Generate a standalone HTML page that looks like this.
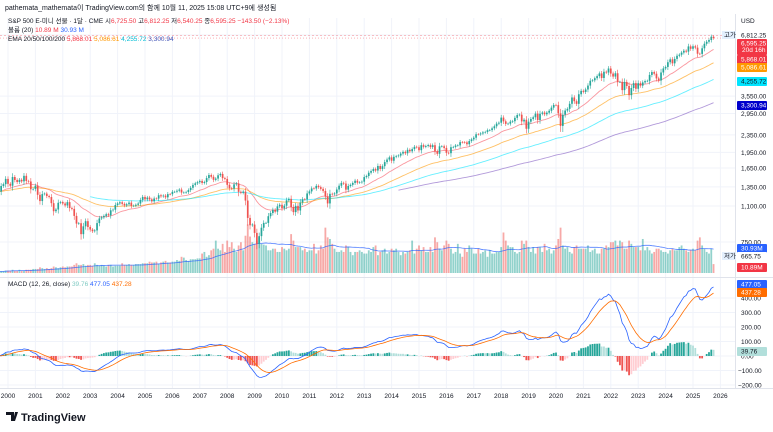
<!DOCTYPE html>
<html><head><meta charset="utf-8">
<style>
body{margin:0;width:773px;height:432px;background:#fff;overflow:hidden;font-family:"Liberation Sans","Noto Sans CJK KR",sans-serif;}
svg{position:absolute;left:0;top:0}
.t{font-size:7px;fill:#131722}
.ax{font-size:6.5px;fill:#131722}
</style></head>
<body>
<svg id="c" width="773" height="432"></svg>
<script>
const startLabel = "1999-09";
const closes = [1283,1362,1389,1469,
1394,1366,1499,1452,1421,1455,1431,1518,1437,1429,1315,1320,
1366,1240,1160,1249,1256,1224,1211,1134,1041,1060,1139,1148,
1130,1107,1147,1077,1067,990,912,916,815,886,936,880,
856,841,848,917,964,975,990,1008,996,1051,1058,1112,
1131,1145,1126,1107,1121,1141,1102,1104,1115,1130,1174,1212,
1181,1204,1181,1157,1192,1191,1234,1220,1229,1207,1249,1248,
1280,1281,1295,1311,1270,1270,1277,1304,1336,1378,1401,1418,
1438,1407,1421,1482,1531,1503,1455,1474,1527,1549,1481,1468,
1379,1331,1323,1386,1400,1280,1267,1283,1166,969,896,903,
826,735,798,873,919,919,987,1021,1057,1036,1096,1115,
1074,1104,1169,1187,1089,1031,1102,1049,1141,1183,1181,1258,
1286,1327,1326,1364,1345,1321,1292,1219,1131,1253,1247,1258,
1312,1366,1408,1398,1310,1362,1379,1407,1441,1412,1416,1426,
1498,1515,1569,1598,1631,1606,1686,1633,1682,1757,1806,1848,
1783,1859,1872,1884,1924,1960,1931,2003,1972,2018,2068,2059,
1995,2105,2068,2086,2107,2063,2104,1972,1920,2079,2080,2044,
1940,1932,2060,2065,2097,2099,2174,2171,2168,2126,2199,2239,
2279,2364,2363,2384,2412,2423,2470,2472,2519,2575,2648,2674,
2824,2714,2641,2648,2705,2718,2816,2902,2914,2712,2760,2507,
2704,2784,2834,2946,2752,2942,2980,2926,2977,3038,3141,3231,
3226,2954,2585,2912,3044,3100,3271,3500,3363,3270,3622,3756,
3714,3811,3973,4181,4204,4298,4395,4523,4308,4605,4567,4766,
4516,4374,4530,4132,4132,3785,4130,3955,3586,3872,4080,3840,
4077,3970,4109,4169,4180,4450,4589,4508,4288,4194,4568,4770,
4846,5096,5254,5036,5278,5460,5522,5648,5762,5705,6032,5882,
6040,5955,5580,5569,5912,6205,6339,6460,6688,6595];
const volumes = [2,2,2,3,
3,3,4,3,3,4,3,3,4,4,4,5,
5,5,7,6,5,6,5,6,8,7,6,7,
8,7,8,8,8,10,12,10,10,11,9,10,
10,9,12,10,9,10,9,8,10,10,8,9,
9,9,12,10,10,11,10,10,11,11,11,12,
12,12,14,13,13,14,11,13,14,15,13,13,
14,14,16,15,20,19,16,15,17,17,17,18,
18,24,26,20,22,28,30,40,30,28,36,26,
40,32,38,30,26,34,38,28,46,60,45,38,
36,40,44,36,35,34,28,28,30,30,26,26,
32,30,28,30,48,40,32,32,32,28,30,26,
28,28,36,24,28,34,30,56,44,42,36,30,
26,26,28,26,34,32,26,22,26,26,28,26,
24,24,28,26,32,34,22,26,28,30,24,26,
30,28,30,26,22,26,24,26,28,40,24,30,
34,28,32,26,26,32,26,44,38,30,28,34,
40,36,30,24,26,36,24,20,30,26,34,30,
24,24,30,24,26,28,20,28,24,24,26,26,
32,50,40,34,32,32,26,24,26,40,36,40,
32,26,32,24,32,32,26,36,28,30,24,28,
34,42,56,34,30,32,26,24,32,34,30,30,
30,30,34,26,28,30,24,24,30,30,34,32,
38,38,40,34,40,38,30,30,40,36,32,32,
32,28,42,28,32,28,24,26,30,30,28,26,
26,24,28,30,28,28,32,34,30,28,26,28,
30,28,40,44,34,30,26,24,30,11];
const years = [2000,2001,2002,2003,2004,2005,2006,2007,2008,2009,2010,2011,2012,2013,2014,2015,2016,2017,2018,2019,2020,2021,2022,2023,2024,2025,2026];
const priceTicks = [6812.25,3550,2950,2350,1950,1650,1350,1100,750];
const macdTicks = [400,300,200,100,0,-100,-200];

const NS="http://www.w3.org/2000/svg", svg=document.getElementById('c');
function el(tag,attrs,parent){const e=document.createElementNS(NS,tag);for(const k in attrs)e.setAttribute(k,attrs[k]);(parent||svg).appendChild(e);return e;}
const X=i=>8+(i-4)*27.4/12;
const XY=y=>8+(y-2000)*27.4;
const LT=Math.log(6812.25);
const PY=p=>35+(LT-Math.log(p))*93.8;
const VY=v=>273-v*0.81;
const MY=v=>356-v*0.145;

// grid
const grid=el('g',{});

years.forEach(y=>{el('line',{x1:XY(y),x2:XY(y),y1:18,y2:388,stroke:'#f0f3fa','stroke-width':1},grid);});
priceTicks.forEach(p=>{el('line',{x1:0,x2:735,y1:PY(p),y2:PY(p),stroke:'#f0f3fa'},grid);});
macdTicks.forEach(v=>{el('line',{x1:0,x2:735,y1:MY(v),y2:MY(v),stroke:'#f0f3fa'},grid);});
el('line',{x1:0,x2:773,y1:277.5,y2:277.5,stroke:'#e0e3eb'});
el('line',{x1:0,x2:773,y1:388.5,y2:388.5,stroke:'#e0e3eb'});
el('line',{x1:735.5,x2:735.5,y1:0,y2:388,stroke:'#e0e3eb'});

// opens
const opens=closes.map((c,i)=>i?closes[i-1]:c*0.97);

// volume
const vg=el('g',{});
volumes.forEach((v,i)=>{const up=closes[i]>=opens[i];
 const b=el('rect',{x:X(i)-0.9,y:VY(v),width:1.8,height:273-VY(v),fill:up?'rgba(38,166,154,0.5)':'rgba(239,83,80,0.5)'},vg);
 });
// volume MA20
let vma=[];volumes.forEach((v,i)=>{const s=volumes.slice(Math.max(0,i-19),i+1);vma.push(s.reduce((a,b)=>a+b,0)/s.length);});
const vl=el('polyline',{points:vma.map((v,i)=>X(i)+','+VY(v)).join(' '),fill:'none',stroke:'#2962ff','stroke-width':0.8,opacity:0.8});


// EMAs
function ema(arr,n){const k=2/(n+1);let out=[],e=arr[0];arr.forEach((v,i)=>{e=i?v*k+e*(1-k):v;out.push(e);});return out;}
const emaDefs=[[20,'#f7525f',0],[50,'#ff9800',0],[100,'#00e5ff',40],[200,'#7e57c2',175]];
emaDefs.forEach(([n,c,s])=>{const e=ema(closes,n);let pts=[];e.forEach((v,i)=>{if(i>=s)pts.push(X(i)+','+PY(v));});
 const l=el('polyline',{points:pts.join(' '),fill:'none',stroke:c,'stroke-width':0.9,opacity:0.6});
 });

// candles
const cg=el('g',{});
closes.forEach((c,i)=>{const o=opens[i],up=c>=o,col=up?'#26a69a':'#ef5350';
 const ch=Math.abs(c-o)/o;const hi=Math.max(o,c)*(1+0.012+ch*0.3),lo=Math.min(o,c)*(1-0.012-ch*0.4);
 const g=el('g',{},cg);
 el('line',{x1:X(i),x2:X(i),y1:PY(hi),y2:PY(lo),stroke:col,'stroke-width':0.6},g);
 const t=Math.min(PY(o),PY(c));el('rect',{x:X(i)-0.85,y:t,width:1.7,height:Math.max(0.6,Math.abs(PY(o)-PY(c))),fill:col},g);});
el('line',{x1:0,x2:735,y1:PY(6812.25)+0.5,y2:PY(6812.25)+0.5,stroke:'#f7525f','stroke-dasharray':'2,2','stroke-width':0.6,opacity:0.7});
el('line',{x1:0,x2:735,y1:PY(6595.25),y2:PY(6595.25),stroke:'#f7525f','stroke-dasharray':'1,2','stroke-width':0.6,opacity:0.7});

// MACD
const e12=ema(closes,12),e26=ema(closes,26);const macd=e12.map((v,i)=>v-e26[i]);const sig=ema(macd,9);
const mg=el('g',{});
macd.forEach((m,i)=>{const h=m-sig[i],prev=i?macd[i-1]-sig[i-1]:h;const col=h>=0?(h>=prev?'#26a69a':'#b2dfdb'):(h<prev?'#ef5350':'#ffcdd2');
 const b=el('rect',{x:X(i)-0.9,y:Math.min(MY(0),MY(h)),width:1.8,height:Math.abs(MY(h)-MY(0)),fill:col},mg);
 });
const ml=el('polyline',{points:macd.map((v,i)=>X(i)+','+MY(v)).join(' '),fill:'none',stroke:'#2962ff','stroke-width':0.8});

const sl=el('polyline',{points:sig.map((v,i)=>X(i)+','+MY(v)).join(' '),fill:'none',stroke:'#ff6d00','stroke-width':0.8});


// axes labels
years.forEach(y=>{const t=el('text',{x:XY(y),y:398,'text-anchor':'middle',class:'ax'});t.textContent=y;
 });
priceTicks.slice(1).forEach(p=>{const t=el('text',{x:741,y:PY(p)+2.5,class:'ax'});t.textContent=p.toLocaleString('en-US',{minimumFractionDigits:2});
 });
macdTicks.forEach(v=>{const t=el('text',{x:v<0?738:741,y:MY(v)+2.5,class:'ax'});t.textContent=(v<0?'−'+(-v):v)+'.00';
 });

// right labels
function tag(y,h,bg,fg,txt,name){const g=el('g',{});
 el('rect',{x:737,y:y,width:30,height:h,fill:bg,rx:1},g);const t=el('text',{x:741,y:y+6.3,class:'ax',fill:fg},g);t.setAttribute('style','fill:'+fg);t.textContent=txt;return g;}
tag(31,8,'#fff','#131722','6,812.25','high-price-label');
const g1=tag(39,16,'#f23645','#fff','6,595.25','last-price-label');const t2=el('text',{x:742,y:52,class:'ax'},g1);t2.setAttribute('style','fill:#fff');t2.textContent='20d 16h';
tag(55,9,'#f23645','#fff','5,868.01','ema20-label');
tag(63,9,'#ff9800','#fff','5,086.61','ema50-label');
tag(77,9,'#00e5ff','#131722','4,255.72','ema100-label');
tag(101,9,'#0000cc','#fff','3,300.94','ema200-label');
tag(244,9,'#2962ff','#fff','30.93M','volume-ma-label');
tag(252,9,'#fff','#131722','665.75','low-price-label');
tag(263,9,'#f23645','#fff','10.89M','volume-label');
tag(280,9,'#2962ff','#fff','477.05','macd-label');
tag(288,9,'#ff6d00','#fff','437.28','signal-label');
tag(347,9,'#b2dfdb','#131722','39.76','hist-label');
function small(x,y,txt,name){const g=el('g',{});
 el('rect',{x:x,y:y,width:14,height:8,fill:'#e3effd'},g);const t=el('text',{x:x+2,y:y+6,class:'ax'},g);t.textContent=txt;}
small(722,31,'고가','high-tag');small(722,252,'저가','low-tag');
const usd=el('text',{x:741,y:23,class:'ax'});usd.textContent='USD';

// header
function tx(x,y,parts,name,size){const t=el('text',{x:x,y:y,class:'t'});if(size)t.setAttribute('style','font-size:'+size+'px');
 
 parts.forEach(([s,c])=>{const sp=el('tspan',{fill:c||'#131722'},t);sp.textContent=s;});return t;}
el('rect',{x:0,y:0,width:773,height:14,fill:'#fff'});
tx(5,10,[['pathemata_mathemata이 TradingView.com의 함께 10월 11, 2025 15:08 UTC+9에 생성됨']],'snapshot-caption',7);
tx(8,23,[['S&P 500 E-미니 선물 · 1달 · CME  시'],['6,725.50','#f23645'],['  고'],['6,812.25','#f23645'],['  저'],['6,540.25','#f23645'],['  종'],['6,595.25','#f23645'],['  −143.50 (−2.13%)','#f23645']],'symbol-legend',6.5);
tx(8,32,[['볼륨 (20)  '],['10.89 M','#f23645'],['  '],['30.93 M','#2962ff']],'volume-legend',6.5);
tx(8,41,[['EMA 20/50/100/200  '],['5,868.01','#f23645'],['  '],['5,086.61','#ff9800'],['  '],['4,255.72','#00bcd4'],['  '],['3,300.94','#3f51b5']],'ema-legend',6.5);
tx(8,286,[['MACD (12, 26, close)  '],['39.76','#80cbc4'],['  '],['477.05','#2962ff'],['  '],['437.28','#ff6d00']],'macd-legend',6.5);
// logo
const lg=el('g',{});
el('path',{d:'M6 412h8v9h-3v-6h-5z M15 412h3l-3 9h-2z',fill:'#131722'},lg);
const lt=el('text',{x:21,y:421,style:'font-size:11px;font-weight:bold;fill:#131722'},lg);lt.textContent='TradingView';
</script>
</body></html>
